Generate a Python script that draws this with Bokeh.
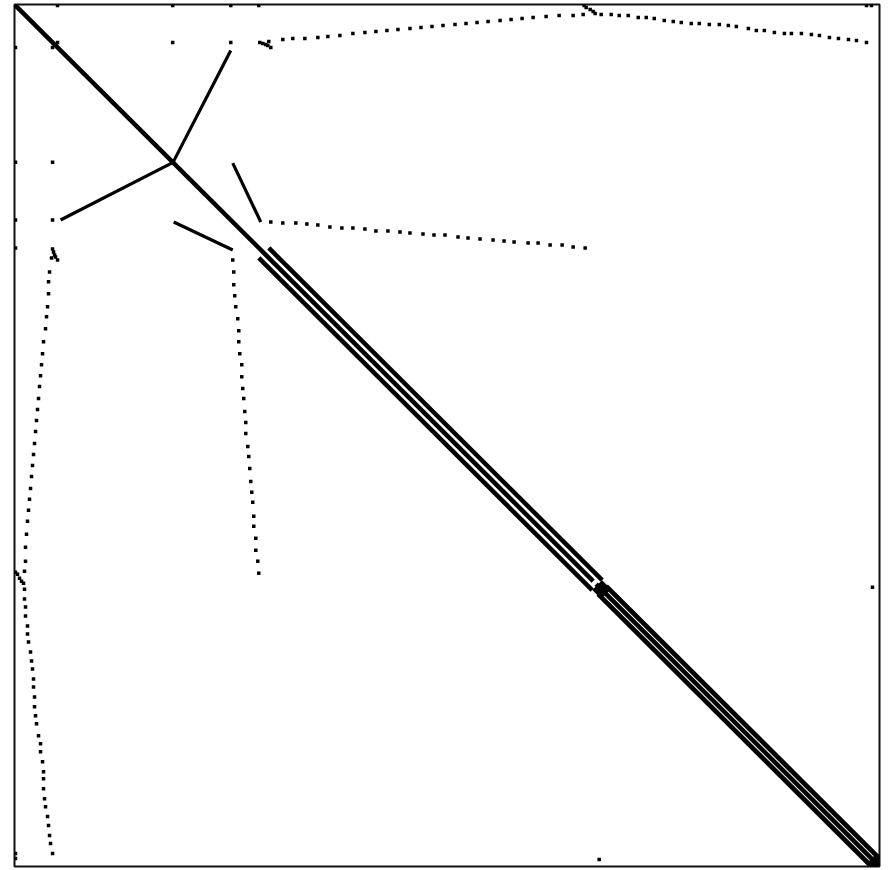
from bokeh.plotting import figure
from bokeh.models import Range1d
from bokeh.embed import file_html
from bokeh.resources import INLINE

N = 864  # order of the (structurally symmetric) sparse matrix

# runs along the main diagonal: first and last index
diag_first = [0, 581]
diag_last = [578, 864]

# short stretches where the diagonal and its bands fill in solid
solid_first = [582, 856]
solid_last = [591, 864]

# off-diagonal bands around the diagonal (upper side, mirrored below)
band_offset = [10, 8]
band_first = [244, 583]
band_last = [577, 856]

# straight chains of nonzeros in the upper triangle: (row0, col0) -> (row1, col1)
chain_row0 = [46, 159]
chain_col0 = [216, 218]
chain_row1 = [157, 218]
chain_col1 = [159, 246]

# isolated nonzeros in the upper triangle
single_rows = [1, 1, 1, 1, 1, 1, 38, 38, 38, 584]
single_cols = [43, 158, 216, 244, 851, 856, 43, 158, 216, 857]

# first long sparse row (rises towards the top edge and falls again)
row_a_rows = [38, 39, 40, 41, 43, 37,
              35, 34, 34, 33, 32, 31, 29, 28, 27, 26, 25, 24, 23, 22, 21, 20, 19,
              18, 17, 16, 15, 14, 13, 12, 11, 11, 10,
              1, 3, 5, 7, 9,
              10, 10, 11, 11, 13, 13, 14, 16, 17, 18, 19, 19, 20, 20, 21, 22, 24,
              26, 26, 28, 29, 29, 29, 30, 31, 33, 34, 35, 36, 38]
row_a_cols = [245, 248, 251, 253, 256, 254,
              268, 278, 290, 303, 313, 325, 338, 350, 361, 372, 383, 395, 406, 417,
              428, 440, 451, 462, 473, 485, 496, 507, 518, 531, 544, 558, 568,
              569, 571, 575, 578, 580,
              586, 596, 604, 613, 623, 631, 639, 649, 658, 666, 676, 684, 694, 704,
              713, 721, 733, 741, 749, 759, 769, 776, 786, 796, 804, 814, 823, 833,
              841, 851]

# second long sparse row
row_b_rows = [218, 219, 219, 220, 221, 223, 224, 224, 225, 227, 227, 228, 229, 230,
              231, 231, 233, 234, 235, 236, 237, 238, 239, 239, 241, 241, 243, 244]
row_b_cols = [256, 268, 281, 292, 303, 315, 327, 338, 350, 361, 373, 385, 395, 408,
              419, 430, 443, 453, 465, 478, 489, 499, 513, 523, 535, 547, 558, 570]

p = figure(width=891, height=870, output_backend="svg", toolbar_location=None,
           x_range=Range1d(0, N), y_range=Range1d(N, 0),
           min_border_left=14, min_border_right=12, min_border_top=4, min_border_bottom=4)
p.axis.visible = False
p.grid.visible = False
p.outline_line_color = "#111111"
p.outline_line_width = 2
p.background_fill_color = "white"
p.border_fill_color = "white"

# main diagonal
p.segment(x0=diag_first, y0=diag_first, x1=diag_last, y1=diag_last,
          line_color="black", line_width=4.5)

# bands: upper side and its mirror image
widths = [4.5, 4.8]
for off, a, b, w in zip(band_offset, band_first, band_last, widths):
    p.segment(x0=[a + off, a], y0=[a, a + off], x1=[b + off, b], y1=[b, b + off],
              line_color="black", line_width=w)

# solid stretches
p.segment(x0=solid_first, y0=solid_first, x1=solid_last, y1=solid_last,
          line_color="black", line_width=14)

# chains and their transposes
p.segment(x0=chain_col0 + chain_row0, y0=chain_row0 + chain_col0,
          x1=chain_col1 + chain_row1, y1=chain_row1 + chain_col1,
          line_color="black", line_width=3.2)

# scattered entries and their transposes
rows = single_rows + row_a_rows + row_b_rows
cols = single_cols + row_a_cols + row_b_cols
p.scatter(x=cols + rows, y=rows + cols, marker="square", size=3.5,
          color="black", line_width=0)

open("out.html", "w").write(file_html(p, INLINE))
